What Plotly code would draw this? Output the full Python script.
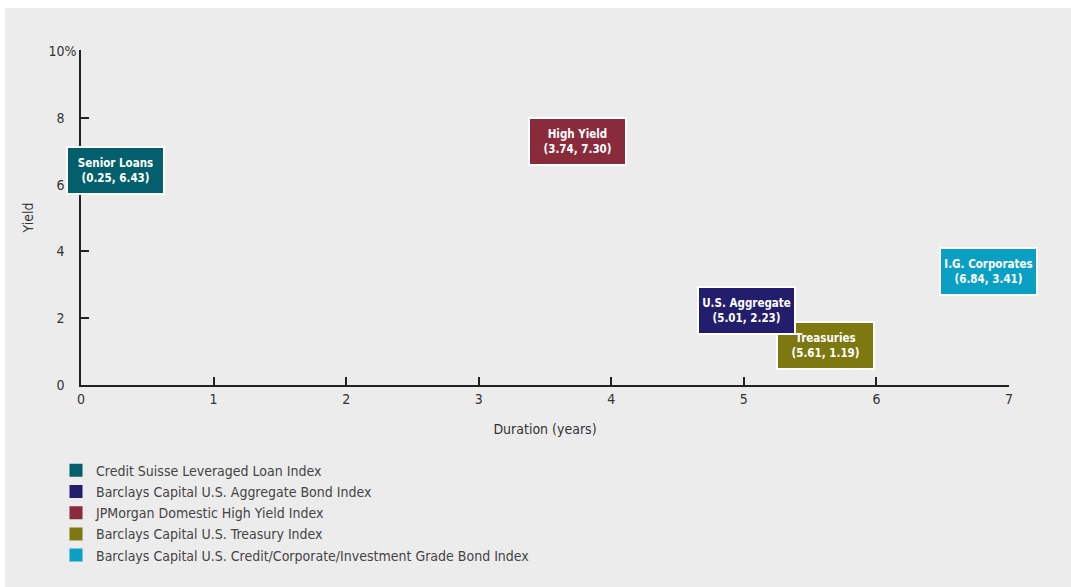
import plotly.graph_objects as go

# ---- data ----
short_names = ["Senior Loans", "U.S. Aggregate", "High Yield", "Treasuries", "I.G. Corporates"]
index_names = [
    "Credit Suisse Leveraged Loan Index",
    "Barclays Capital U.S. Aggregate Bond Index",
    "JPMorgan Domestic High Yield Index",
    "Barclays Capital U.S. Treasury Index",
    "Barclays Capital U.S. Credit/Corporate/Investment Grade Bond Index",
]
duration = [0.25, 5.01, 3.74, 5.61, 6.84]
yield_pct = [6.43, 2.23, 7.30, 1.19, 3.41]
colors = ["#035f6b", "#221e6b", "#8a2b3b", "#7d7810", "#0aa0c3"]

x_ticks = [0, 1, 2, 3, 4, 5, 6, 7]
y_ticks = [0, 2, 4, 6, 8, 10]
y_tick_text = ["0", "2", "4", "6", "8", "10%"]

FONT = "DejaVu Sans Condensed, Liberation Sans Narrow, sans-serif"
BG = "#ececec"

# digits sit further from the axis than the "%" sign (as in the original)
PAD = "\u00a0\u00a0\u00a0"
y_tick_labels = [t if t.endswith("%") else t + PAD for t in y_tick_text]

fig = go.Figure()
for name, x, y, c in zip(index_names, duration, yield_pct, colors):
    fig.add_trace(go.Scatter(
        x=[x], y=[y], mode="markers", name=name,
        marker=dict(symbol="square", size=13, color=c),
        hoverinfo="skip", cliponaxis=False,
    ))

# annotation drawing order: Treasuries below U.S. Aggregate
order = [0, 2, 3, 1, 4]
for i in order:
    fig.add_annotation(
        x=duration[i], y=yield_pct[i], xref="x", yref="y",
        text=f"<b>{short_names[i]}</b><br><b>({duration[i]:.2f}, {yield_pct[i]:.2f})</b>",
        showarrow=False, align="center", xshift=1,
        font=dict(family=FONT, size=11.5, color="white"),
        bgcolor=colors[i], bordercolor="white", borderwidth=2, borderpad=2,
        width=91, height=41,
    )

# white outer strips (top and left)
fig.add_shape(type="rect", xref="paper", yref="paper", layer="below",
              x0=-81/928, x1=(5-81)/928, y0=-202/335, y1=1+50/335,
              fillcolor="white", line=dict(width=0))
fig.add_shape(type="rect", xref="paper", yref="paper", layer="below",
              x0=-81/928, x1=1+62/928, y0=1+(50-8)/335, y1=1+50/335,
              fillcolor="white", line=dict(width=0))

fig.update_layout(
    width=1071, height=587,
    margin=dict(l=81, r=62, t=50, b=202, autoexpand=False),
    paper_bgcolor=BG, plot_bgcolor=BG,
    font=dict(family=FONT, size=14, color="#333333"),
    showlegend=True,
    legend=dict(
        x=-25/928, y=-0.208, xanchor="left", yanchor="top",
        bgcolor="rgba(0,0,0,0)", font=dict(family=FONT, size=14, color="#444444"),
        itemwidth=30, traceorder="normal",
    ),
    xaxis=dict(
        range=[0, 7], tickvals=x_ticks, ticks="inside", ticklen=8, tickwidth=1.5,
        tickcolor="#222", showline=True, linecolor="#222", linewidth=2,
        showgrid=False, zeroline=False, automargin=False,
        title=dict(text="Duration (years)", standoff=18, font=dict(size=14, color="#333")),
        tickfont=dict(size=14, color="#333"),
    ),
    yaxis=dict(
        range=[0, 10.03], tickvals=y_ticks, ticktext=y_tick_labels, ticks="inside",
        ticklen=8, tickwidth=1.5, tickcolor="#222", showline=True, linecolor="#222",
        linewidth=1.5, showgrid=False, zeroline=False, automargin=False,
        title=dict(text="Yield", standoff=12, font=dict(size=14, color="#333")),
        tickfont=dict(size=14, color="#333"),
    ),
)

fig.write_html("out.html")
